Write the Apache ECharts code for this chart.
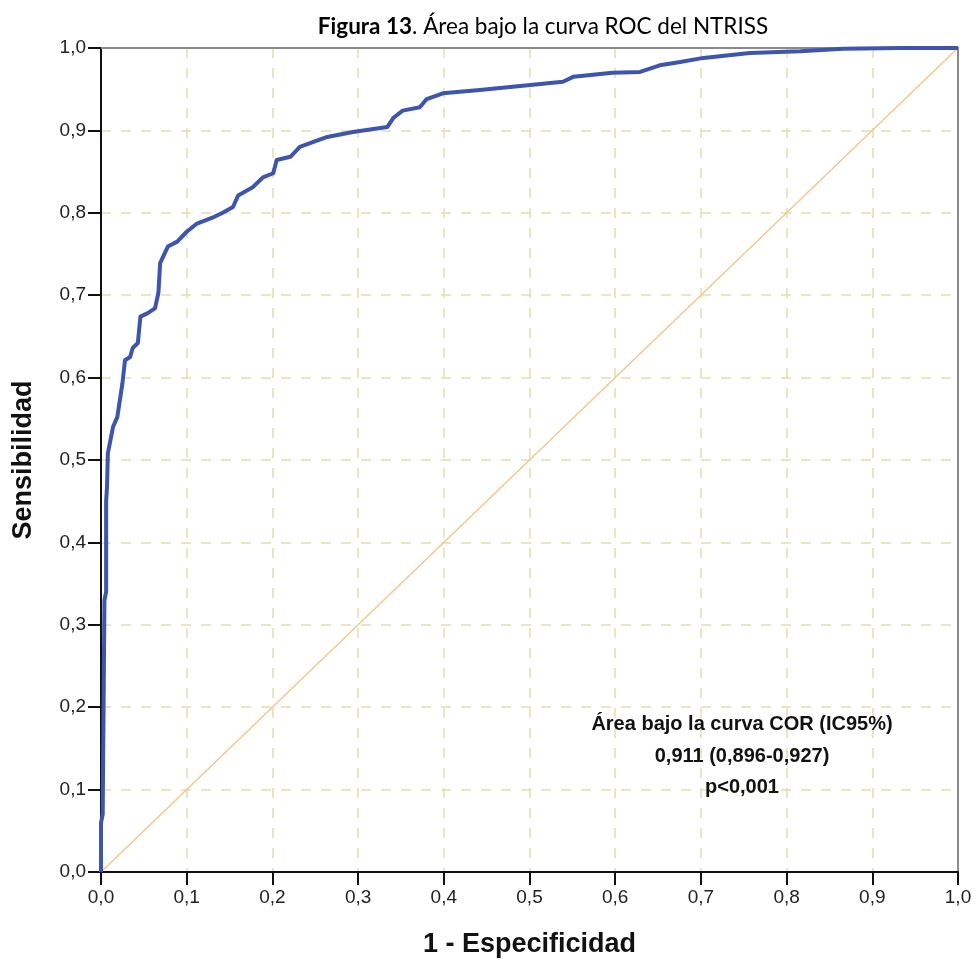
<!DOCTYPE html>
<html>
<head>
<meta charset="utf-8">
<script src="https://cdn.jsdelivr.net/npm/echarts@6/dist/echarts.min.js"></script>
<style>html,body{margin:0;padding:0;background:#fff}#c{width:976px;height:959px}</style>
</head>
<body>
<div id="c"></div>
<script>
// 1 - Especificidad (false positive rate)
const fpr = [0, 0, 0.002, 0.003, 0.004, 0.006, 0.006, 0.007, 0.008, 0.014, 0.019, 0.025, 0.028, 0.034, 0.037, 0.043, 0.046, 0.054, 0.063, 0.067, 0.069, 0.078, 0.089, 0.100, 0.112, 0.130, 0.142, 0.154, 0.160, 0.177, 0.189, 0.201, 0.205, 0.221, 0.232, 0.264, 0.294, 0.334, 0.341, 0.352, 0.372, 0.380, 0.399, 0.442, 0.501, 0.539, 0.551, 0.597, 0.629, 0.652, 0.676, 0.703, 0.757, 0.816, 0.866, 0.932, 1.0];
// Sensibilidad (true positive rate)
const tpr = [0, 0.06, 0.07, 0.20, 0.33, 0.34, 0.45, 0.467, 0.508, 0.540, 0.552, 0.593, 0.621, 0.625, 0.636, 0.642, 0.674, 0.678, 0.684, 0.703, 0.739, 0.759, 0.765, 0.777, 0.787, 0.794, 0.800, 0.807, 0.821, 0.831, 0.843, 0.848, 0.864, 0.868, 0.880, 0.892, 0.898, 0.904, 0.915, 0.924, 0.928, 0.938, 0.945, 0.949, 0.955, 0.959, 0.965, 0.970, 0.971, 0.979, 0.983, 0.988, 0.994, 0.996, 0.999, 1.0, 1.0];
const refX = [0, 1];
const refY = [0, 1];
const titleBold = 'Figura 13';
const titleRest = '. Área bajo la curva ROC del NTRISS';
const xName = '1 - Especificidad';
const yName = 'Sensibilidad';
const annotation = ['Área bajo la curva COR (IC95%)', '0,911 (0,896-0,927)', 'p<0,001'];

const fmt = v => v.toFixed(1).replace('.', ',');
const chart = echarts.init(document.getElementById('c'));
const gridStyle = { show: true, lineStyle: { color: '#e3ddb0', width: 1.5, type: [10, 10] } };
const borderAxis = (pos) => ({
  type: 'value', min: 0, max: 1, interval: 0.1, position: pos,
  axisLine: { show: true, onZero: false, lineStyle: { color: '#8a8a8a', width: 2 } },
  axisTick: { show: false }, axisLabel: { show: false }, splitLine: { show: false }
});
chart.setOption({
  animation: false,
  backgroundColor: '#fff',
  title: {
    text: '{b|' + titleBold + '}{n|' + titleRest + '}',
    left: 538, top: 10, textAlign: 'center',
    textStyle: { fontWeight: 'normal', rich: {
      b: { fontFamily: 'Lato', fontWeight: 'bold', fontSize: 22.5, color: '#000' },
      n: { fontFamily: 'Lato', fontWeight: 'normal', fontSize: 22.5, color: '#000' }
    } }
  },
  grid: { left: 101, right: 18, top: 48, bottom: 87, outerBoundsMode: 'none', containLabel: false },
  xAxis: [{
    type: 'value', min: 0, max: 1, interval: 0.1, position: 'bottom',
    name: xName, nameLocation: 'middle', nameGap: 59,
    nameTextStyle: { fontFamily: 'Liberation Sans', fontWeight: 'bold', fontSize: 27, color: '#111' },
    axisLine: { show: true, onZero: false, lineStyle: { color: '#111', width: 2 } },
    axisTick: { show: true, length: 13, lineStyle: { color: '#111', width: 2 } },
    axisLabel: { formatter: fmt, fontFamily: 'Liberation Sans', fontSize: 19, color: '#222', margin: 16 },
    splitLine: gridStyle
  }, borderAxis('top')],
  yAxis: [{
    type: 'value', min: 0, max: 1, interval: 0.1, position: 'left',
    name: yName, nameLocation: 'middle', nameGap: 64, nameRotate: 90,
    nameTextStyle: { fontFamily: 'Liberation Sans', fontWeight: 'bold', fontSize: 27, color: '#111' },
    axisLine: { show: true, onZero: false, lineStyle: { color: '#111', width: 2 } },
    axisTick: { show: true, length: 13, lineStyle: { color: '#111', width: 2 } },
    axisLabel: { formatter: fmt, fontFamily: 'Liberation Sans', fontSize: 19, color: '#222', margin: 15 },
    splitLine: gridStyle
  }, borderAxis('right')],
  series: [
    {
      type: 'line', data: refX.map((x, i) => [x, refY[i]]), symbol: 'none',
      lineStyle: { color: '#f7c68a', width: 1.5 }, z: 2, silent: true
    },
    {
      type: 'line', data: fpr.map((x, i) => [x, tpr[i]]), symbol: 'none',
      lineStyle: { color: '#3d55ae', width: 4, join: 'round' }, z: 3, silent: true
    }
  ],
  graphic: [{
    type: 'text', x: 742, y: 709,
    style: {
      text: annotation.join('\n'), textAlign: 'center', textVerticalAlign: 'top',
      font: 'bold 20px "Liberation Sans"', fill: '#111', lineHeight: 31.5
    },
    z: 10
  }]
});
</script>
</body>
</html>
